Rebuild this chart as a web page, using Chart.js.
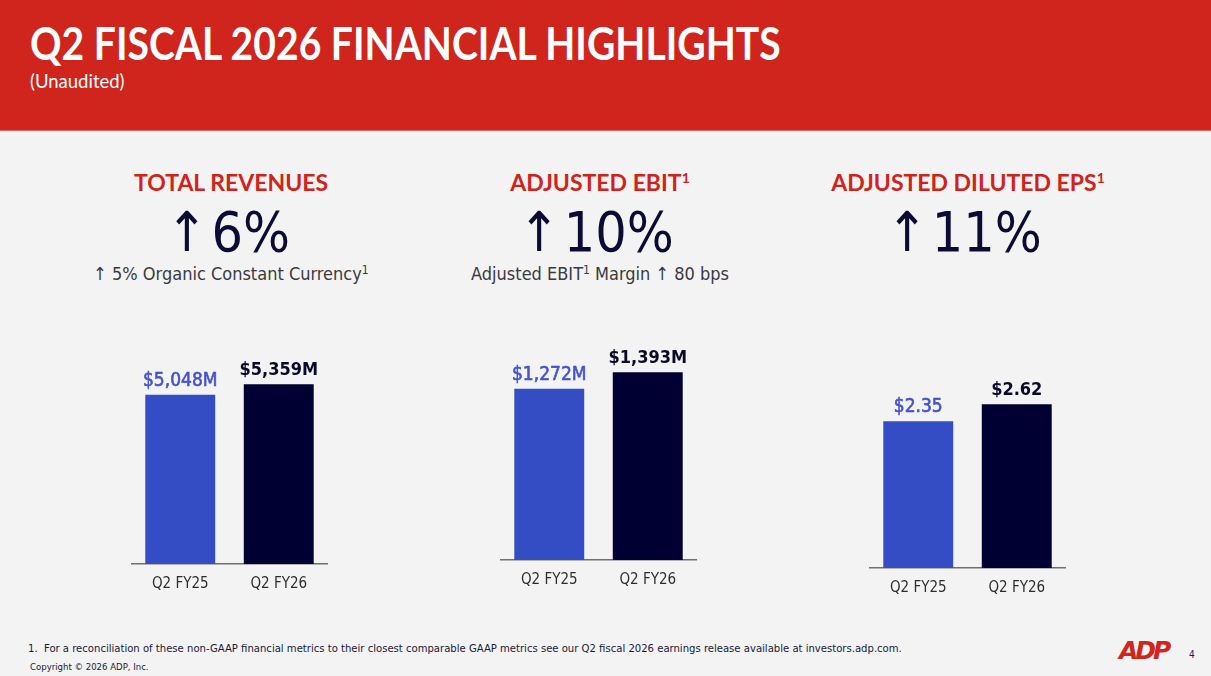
<!DOCTYPE html>
<html>
<head>
<meta charset="utf-8">
<script src="https://cdn.jsdelivr.net/npm/chart.js@4.4.0/dist/chart.umd.min.js"></script>
<style>
body { margin: 0; width: 1211px; height: 676px; background: #f2f3f2; position: relative; overflow: hidden;
  font-family: "DejaVu Sans Condensed", "DejaVu Sans", sans-serif; }
.header { position: absolute; left: 0; top: 0; width: 1211px; height: 130px; background: #d0251c; border-bottom: 1px solid #e0645c; }
.title { position: absolute; left: 30px; top: 23px; height: 40px; color: #fff; font: bold 46px/40px Lato, sans-serif; white-space: nowrap;
  transform: scaleX(0.85); transform-origin: 0 0; }
.sub { position: absolute; left: 30px; top: 72px; color: #fff; font: 18.5px/1 Lato, sans-serif; }
.panel { position: absolute; width: 400px; text-align: center; }
.head { top: 171px; color: #d0231c; font: bold 23px/1 Lato, sans-serif; white-space: nowrap; }
.head sup { font-size: 14px; line-height: 0; vertical-align: 8px; }
.big { top: 205px; color: #0b0b33; font-size: 55px; line-height: 1; white-space: nowrap; }
.big span { margin-right: 4px; }
.note { top: 265px; color: #3a3a40; font-size: 18px; line-height: 1; white-space: nowrap; }
.note sup { font-size: 12px; line-height: 0; vertical-align: 6px; }
canvas { position: absolute; }
.foot { position: absolute; left: 28px; top: 643px; font-size: 11.2px; line-height: 1; color: #1a1a3a; white-space: nowrap; }
.copy { position: absolute; left: 30px; top: 662px; font-size: 9.5px; line-height: 1; color: #1a1a3a; white-space: nowrap; }
.logo { position: absolute; left: 1119px; top: 638px; color: #d0271d; font: italic bold 25px/1 "DejaVu Sans", sans-serif; letter-spacing: -3px; }
.page { position: absolute; left: 1189px; top: 650px; color: #1a1a5a; font-size: 10px; line-height: 1; }
</style>
</head>
<body>
<div class="header">
  <div class="title">Q2 FISCAL 2026 FINANCIAL HIGHLIGHTS</div>
  <div class="sub">(Unaudited)</div>
</div>

<div class="panel head" style="left:31px">TOTAL REVENUES</div>
<div class="panel big" style="left:28px"><span>↑</span>6%</div>
<div class="panel note" style="left:31px">↑ 5% Organic Constant Currency<sup>1</sup></div>

<div class="panel head" style="left:400px">ADJUSTED EBIT<sup>1</sup></div>
<div class="panel big" style="left:396px"><span>↑</span>10%</div>
<div class="panel note" style="left:400px">Adjusted EBIT<sup>1</sup> Margin ↑ 80 bps</div>

<div class="panel head" style="left:768px">ADJUSTED DILUTED EPS<sup>1</sup></div>
<div class="panel big" style="left:764px"><span>↑</span>11%</div>

<canvas id="revChart" width="197" height="258" style="left:131px;top:346px"></canvas>
<canvas id="ebitChart" width="197" height="269" style="left:500px;top:331px"></canvas>
<canvas id="epsChart" width="197" height="240" style="left:869px;top:368px"></canvas>

<div class="foot">1.&nbsp; For a reconciliation of these non-GAAP financial metrics to their closest comparable GAAP metrics see our Q2 fiscal 2026 earnings release available at investors.adp.com.</div>
<div class="copy">Copyright © 2026 ADP, Inc.</div>
<div class="logo">ADP</div>
<div class="page">4</div>

<script>
// data
var categories = ['Q2 FY25', 'Q2 FY26'];
var revenues = [5048, 5359];     // $M
var adjEbit = [1272, 1393];      // $M
var adjEps = [2.35, 2.62];       // $

var barColors = ['#344dc4', '#000033'];
var labelColors = ['#4652cf', '#0a0a28'];

var fmtMillions = v => '$' + v.toLocaleString('en-US') + 'M';
var fmtDollars = v => '$' + v.toFixed(2);

// draws the value above each bar
let valueLabels = (fmt) => ({
  id: 'valueLabels',
  afterDatasetsDraw(chart) {
    let ctx = chart.ctx;
    let values = chart.data.datasets[0].data;
    chart.getDatasetMeta(0).data.forEach((bar, i) => {
      let txt = fmt(values[i]);
      ctx.save();
      ctx.font = i == 0 ? '19px "DejaVu Sans Condensed"' : 'bold 18px "DejaVu Sans Condensed"';
      ctx.fillStyle = labelColors[i];
      ctx.strokeStyle = labelColors[i];
      ctx.textAlign = 'center';
      ctx.textBaseline = 'alphabetic';
      ctx.fillText(txt, bar.x, bar.y - 9);
      if (i == 0) {   // a bit heavier, like the slide
        ctx.lineWidth = 0.6;
        ctx.strokeText(txt, bar.x, bar.y - 9);
      }
      ctx.restore();
    });
  }
});

let makeChart = (id, values, yMax, fmt) => {
  new Chart(document.getElementById(id), {
    type: 'bar',
    data: {
      labels: categories,
      datasets: [{
        data: values,
        backgroundColor: barColors,
        borderWidth: 0,
        barPercentage: 0.71,
        categoryPercentage: 1
      }]
    },
    options: {
      responsive: false,
      animation: false,
      events: [],
      layout: { padding: 0 },
      plugins: { legend: { display: false }, tooltip: { enabled: false } },
      scales: {
        x: {
          grid: { display: false, drawTicks: false },
          border: { display: true, color: '#707070', width: 1.5 },
          ticks: { color: '#2e2e2e', padding: 11, font: { family: 'DejaVu Sans Condensed', size: 15 } }
        },
        y: { display: false, min: 0, max: yMax }
      }
    },
    plugins: [valueLabels(fmt)]
  });
};

makeChart('revChart', revenues, 6500, fmtMillions);
makeChart('ebitChart', adjEbit, 1700, fmtMillions);
makeChart('epsChart', adjEps, 3.2, fmtDollars);
</script>
</body>
</html>
